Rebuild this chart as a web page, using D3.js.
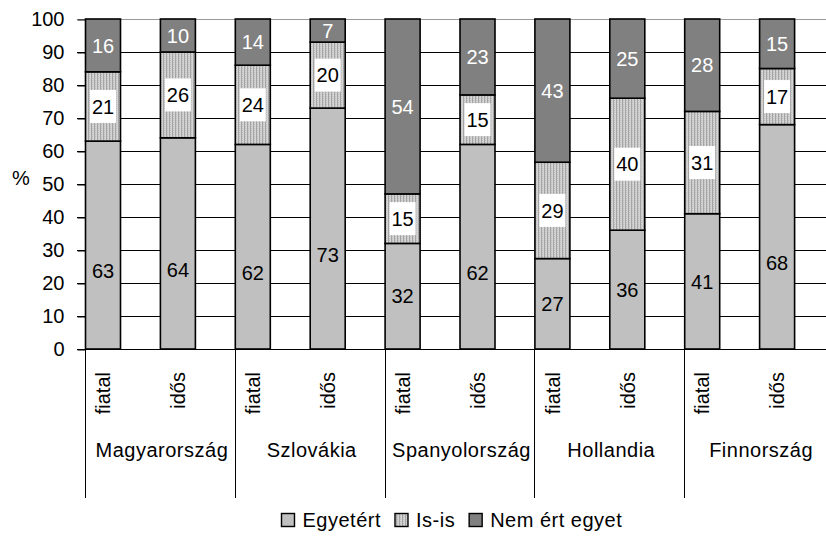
<!DOCTYPE html>
<html>
<head>
<meta charset="utf-8">
<script src="https://cdn.jsdelivr.net/npm/d3@7"></script>
<style>
  body { margin: 0; background: #fff; }
  text { font-family: "Liberation Sans", Arial, sans-serif; }
</style>
</head>
<body>
<svg id="chart" width="826" height="537"></svg>
<script>
var countries = ["Magyarország", "Szlovákia", "Spanyolország", "Hollandia", "Finnország"];
var ages = ["fiatal", "idős"];
var series = ["Egyetért", "Is-is", "Nem ért egyet"];
// values (segment edges), labels show them rounded
var egyetert = [63, 64, 62, 73, 32, 62, 27.4, 36, 41, 68];
var isis = [21, 26, 24, 20, 15, 15, 29.2, 40, 31, 17];
var nemErt = [16, 10, 14, 7, 54, 23, 43.4, 25, 28, 15];
var yTicks = [0, 10, 20, 30, 40, 50, 60, 70, 80, 90, 100];

var fontSize = 20;

var svg = d3.select("#chart");

// pattern for Is-is (fine vertical stripes)
var defs = svg.append("defs");
var pat = defs.append("pattern")
    .attr("id", "isisPat")
    .attr("patternUnits", "userSpaceOnUse")
    .attr("width", 3).attr("height", 2);
pat.append("rect").attr("width", 3).attr("height", 2).attr("fill", "#d4d4d4");
pat.append("rect").attr("x", 1).attr("width", 1).attr("height", 2).attr("fill", "#a4a4a4");
pat.append("rect").attr("x", 2).attr("width", 1).attr("height", 1).attr("fill", "#bdbdbd");

var fills = ["#c0c0c0", "url(#isisPat)", "#808080"];

// categories: country x age
var cats = [];
countries.forEach(function (c) {
    ages.forEach(function (a) {
        cats.push(c + "|" + a);
    });
});

var rows = cats.map(function (k, i) {
    return { key: k, age: k.split("|")[1], v0: egyetert[i], v1: isis[i], v2: nemErt[i] };
});

var xScale = d3.scaleBand()
    .domain(cats)
    .range([85, 85 + 74.9 * 10])
    .paddingInner(0).paddingOuter(0);

var yScale = d3.scaleLinear()
    .domain([0, 100])
    .range([349, 19])
    .clamp(true);

var barW = 35;

// gridlines
svg.append("g").selectAll("line")
    .data(yTicks)
    .enter()
    .append("line")
    .attr("x1", 77)
    .attr("x2", 826)
    .attr("y1", function (d) { return yScale(d) + 0.5; })
    .attr("y2", function (d) { return yScale(d) + 0.5; })
    .attr("stroke", function (d) { return d === 100 ? "#999" : "#000"; })
    .attr("stroke-width", 1);

// y axis
var yAxis = d3.axisLeft(yScale).tickValues(yTicks).tickSize(8).tickPadding(13);
var yG = svg.append("g")
    .attr("transform", "translate(85.5,0.5)")
    .call(yAxis)
    .attr("font-family", null)
    .attr("font-size", fontSize);
yG.select(".domain").attr("stroke", "#000").attr("d", "M0," + yScale(100) + "V" + yScale(0));
yG.selectAll(".tick line").attr("stroke", "#000");
yG.selectAll("text").attr("fill", "#000");

svg.append("text")
    .attr("x", 12)
    .attr("y", yScale(50) - 6)
    .attr("dy", "0.35em")
    .style("font-size", fontSize + "px")
    .text("%");

// stacked bars
var stack = d3.stack().keys(["v0", "v1", "v2"]);
var stacked = stack(rows);

var layers = svg.append("g").selectAll("g")
    .data(stacked)
    .enter()
    .append("g")
    .attr("fill", function (d, i) { return fills[i]; });

layers.selectAll("rect")
    .data(function (d) { return d; })
    .enter()
    .append("rect")
    .attr("x", function (d) { return xScale(d.data.key) + 0.5; })
    .attr("y", function (d) { return yScale(d[1]); })
    .attr("width", barW)
    .attr("height", function (d) { return yScale(d[0]) - yScale(d[1]); })
    .attr("stroke", "#000")
    .attr("stroke-width", 1.6);

// labels
stacked.forEach(function (layer, li) {
    var g = svg.append("g");
    layer.forEach(function (d) {
        var cx = xScale(d.data.key) + 0.5 + barW / 2;
        var cy = (yScale(d[0]) + yScale(d[1])) / 2;
        var val = Math.round(d.data["v" + li]);
        // in the original the labels of tall bottom segments sit lower
        if (li === 0 && val > 50) cy += 26;
        if (li === 1) {
            g.append("rect")
                .attr("x", cx - 13)
                .attr("y", cy - 16.5)
                .attr("width", 26)
                .attr("height", 33)
                .attr("fill", "#fff");
        }
        g.append("text")
            .attr("x", cx)
            .attr("y", cy)
            .attr("dy", "0.36em")
            .attr("text-anchor", "middle")
            .style("font-size", fontSize + "px")
            .attr("fill", li === 2 ? "#fff" : "#000")
            .text(val);
    });
});

// category labels (rotated)
svg.append("g").selectAll("text")
    .data(rows)
    .enter()
    .append("text")
    .attr("transform", function (d) {
        return "translate(" + (xScale(d.key) + 0.5 + barW / 2) + ",372) rotate(-90)";
    })
    .attr("dy", "0.36em")
    .attr("text-anchor", "end")
    .style("font-size", fontSize + "px")
    .text(function (d) { return d.age; });

// group separators and labels
var groupW = xScale.bandwidth() * ages.length;
svg.append("g").selectAll("line")
    .data(countries)
    .enter()
    .append("line")
    .attr("x1", function (d, i) { return Math.round(85 + i * groupW) + 0.5; })
    .attr("x2", function (d, i) { return Math.round(85 + i * groupW) + 0.5; })
    .attr("y1", 349)
    .attr("y2", 498)
    .attr("stroke", "#000");

svg.append("g").selectAll("text")
    .data(countries)
    .enter()
    .append("text")
    .attr("x", function (d, i) { return 85 + i * groupW + groupW / 2 + 2; })
    .attr("y", 457)
    .attr("text-anchor", "middle")
    .style("font-size", fontSize + "px")
    .style("letter-spacing", "0.5px")
    .text(function (d) { return d; });

// legend
var legend = svg.append("g").attr("transform", "translate(0,527)");
var lx = 0;
var items = legend.selectAll("g")
    .data(series)
    .enter()
    .append("g");
items.append("rect")
    .attr("y", -13.5)
    .attr("width", 13)
    .attr("height", 13)
    .attr("fill", function (d, i) { return fills[i]; })
    .attr("stroke", "#000")
    .attr("stroke-width", 1.4);
items.append("text")
    .attr("x", 21)
    .style("font-size", fontSize + "px")
    .style("letter-spacing", "0.5px")
    .text(function (d) { return d; });
items.each(function () {
    var w = this.getBBox().width;
    d3.select(this).attr("transform", "translate(" + lx + ",0)");
    lx += w + 14;
});
lx -= 14;
legend.attr("transform", "translate(" + Math.round(451 - lx / 2) + ".5,527)");
</script>
</body>
</html>
